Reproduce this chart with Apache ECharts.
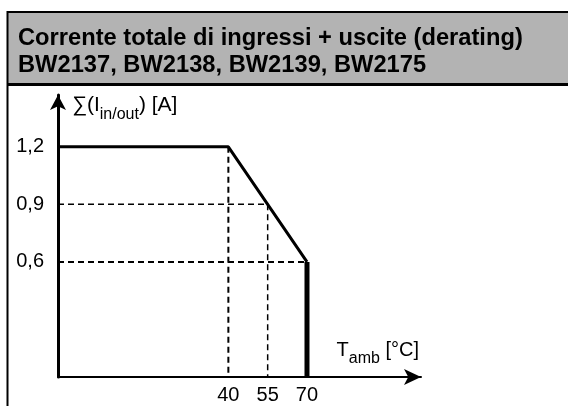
<!DOCTYPE html>
<html>
<head>
<meta charset="utf-8">
<script src="https://cdn.jsdelivr.net/npm/echarts@6/dist/echarts.min.js"></script>
<style>
  html, body { margin: 0; padding: 0; background: #fff; }
  #chart { width: 568px; height: 406px; }
</style>
</head>
<body>
<div id="chart"></div>
<script>
// curva di derating: temperatura ambiente [°C] -> corrente totale [A]
const deratingT = [-25, 40, 70]
const deratingI = [1.2, 1.2, 0.6]
const cutoffT = [70, 70]
const cutoffI = [0.6, 0]
const xTicks = [40, 55, 70]
const yTicks = [0.6, 0.9, 1.2]
const titleLines = ['Corrente totale di ingressi + uscite (derating)', 'BW2137, BW2138, BW2139, BW2175']

const FONT = '"Liberation Sans", Arial, sans-serif'
const tMin = deratingT[0]

function pairs (xs, ys) {
  return xs.map((x, i) => [x, ys[i]])
}

// linee tratteggiate di riferimento
const guides = [
  [[xTicks[0], yTicks[2]], [xTicks[0], 0]],
  [[tMin, yTicks[1]], [xTicks[1], yTicks[1]]],
  [[xTicks[1], yTicks[1]], [xTicks[1], 0]],
  [[tMin, yTicks[0]], [xTicks[2], yTicks[0]]]
]
const guideWidth = [2, 1.5, 1.5, 2]

const series = guides.map((g, i) => ({
  type: 'line',
  data: g,
  symbol: 'none',
  silent: true,
  lineStyle: { color: '#000', width: guideWidth[i], type: [6, 4] },
  z: 1
}))
series.push({
  type: 'line',
  data: pairs(deratingT, deratingI),
  symbol: 'none',
  lineStyle: { color: '#000', width: 3 },
  z: 3
})
series.push({
  type: 'line',
  data: pairs(cutoffT, cutoffI),
  symbol: 'none',
  lineStyle: { color: '#000', width: 5, cap: 'butt' },
  z: 3
})

const chart = echarts.init(document.getElementById('chart'))
chart.setOption({
  animation: false,
  backgroundColor: '#fff',
  textStyle: { fontFamily: FONT },
  title: {
    text: titleLines.join('\n'),
    left: 13,
    top: 20,
    textStyle: { fontFamily: FONT, fontSize: 23.7, fontWeight: 'bold', color: '#000', lineHeight: 27 }
  },
  graphic: [
    { type: 'rect', z: -1, shape: { x: 7, y: 11, width: 570, height: 73 }, style: { fill: '#b3b3b3' } },
    { type: 'line', shape: { x1: 7, y1: 12, x2: 570, y2: 12 }, style: { stroke: '#000', lineWidth: 2 } },
    { type: 'line', shape: { x1: 7, y1: 84.5, x2: 570, y2: 84.5 }, style: { stroke: '#000', lineWidth: 3 } },
    { type: 'line', shape: { x1: 7.5, y1: 11, x2: 7.5, y2: 406 }, style: { stroke: '#000', lineWidth: 2 } }
  ],
  grid: { left: 58, top: 95, right: 147, bottom: 29 },
  xAxis: {
    type: 'value',
    min: tMin,
    max: 113.5,
    name: '{n|T}{s|amb}{n| [°C]}',
    nameLocation: 'end',
    nameGap: -2,
    nameTextStyle: {
      align: 'right',
      verticalAlign: 'bottom',
      padding: [0, 0, 17, 0],
      rich: {
        n: { fontFamily: FONT, fontSize: 20, color: '#000' },
        s: { fontFamily: FONT, fontSize: 16, color: '#000', verticalAlign: 'bottom', padding: [0, 0, -7, 0] }
      }
    },
    axisLine: { onZero: false, symbol: ['none', 'arrow'], symbolSize: [12, 17], lineStyle: { color: '#000', width: 2 } },
    axisTick: { show: false },
    splitLine: { show: false },
    axisLabel: {
      customValues: xTicks,
      margin: 8,
      fontSize: 20,
      color: '#000',
      fontFamily: FONT
    }
  },
  yAxis: {
    type: 'value',
    min: 0,
    max: 1.47,
    name: '{n|∑(I}{s|in/out}{n|) [A]}',
    nameLocation: 'end',
    nameGap: -10,
    nameTextStyle: {
      align: 'left',
      verticalAlign: 'middle',
      padding: [0, 0, 0, 14],
      rich: {
        n: { fontFamily: FONT, fontSize: 21, color: '#000' },
        s: { fontFamily: FONT, fontSize: 16, color: '#000', verticalAlign: 'bottom', padding: [0, 0, -7, 0] }
      }
    },
    axisLine: { onZero: false, symbol: ['none', 'arrow'], symbolSize: [12, 15], lineStyle: { color: '#000', width: 3 } },
    axisTick: { show: false },
    splitLine: { show: false },
    axisLabel: {
      customValues: yTicks,
      margin: 14,
      fontSize: 20,
      color: '#000',
      fontFamily: FONT,
      formatter: v => v.toFixed(1).replace('.', ',')
    }
  },
  series: series
})
</script>
</body>
</html>
